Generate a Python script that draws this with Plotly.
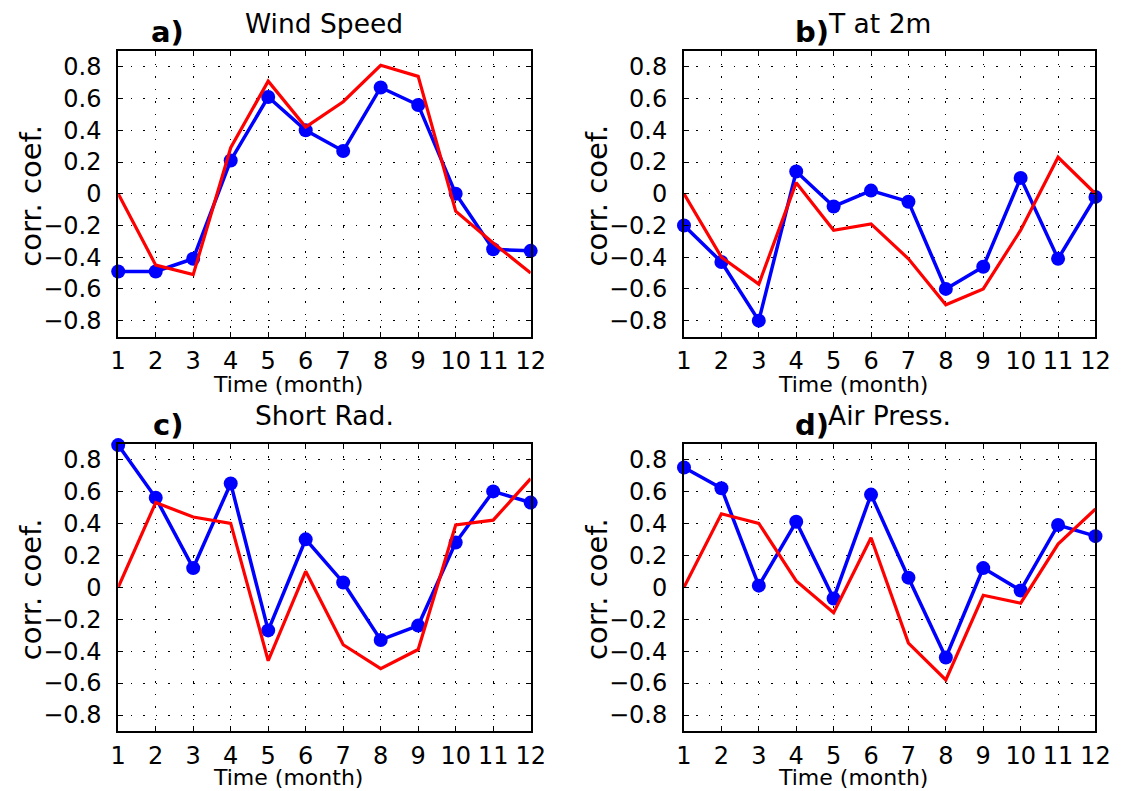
import plotly.graph_objects as go

# ---- data -------------------------------------------------------------
months = list(range(1, 13))
month_labels = [str(m) for m in months]

y_tick_vals = [-0.8, -0.6, -0.4, -0.2, 0.0, 0.2, 0.4, 0.6, 0.8]
y_tick_text = ["\u22120.8", "\u22120.6", "\u22120.4", "\u22120.2", "0",
               "0.2", "0.4", "0.6", "0.8"]

wind_blue = [-0.49, -0.49, -0.41, 0.21, 0.61, 0.40, 0.27, 0.67, 0.56, 0.00, -0.35, -0.36]
wind_red = [0.00, -0.45, -0.51, 0.29, 0.71, 0.42, 0.58, 0.81, 0.74, -0.11, -0.31, -0.50]

temp_blue = [-0.20, -0.43, -0.80, 0.14, -0.08, 0.02, -0.05, -0.60, -0.46, 0.10, -0.41, -0.02]
temp_red = [0.00, -0.40, -0.57, 0.07, -0.23, -0.19, -0.41, -0.70, -0.60, -0.23, 0.23, 0.00]

rad_blue = [0.89, 0.56, 0.12, 0.65, -0.27, 0.30, 0.03, -0.33, -0.24, 0.28, 0.60, 0.53]
rad_red = [0.00, 0.53, 0.44, 0.40, -0.46, 0.10, -0.36, -0.51, -0.39, 0.39, 0.42, 0.68]

press_blue = [0.75, 0.62, 0.01, 0.41, -0.07, 0.58, 0.06, -0.44, 0.12, -0.02, 0.39, 0.32]
press_red = [0.00, 0.46, 0.40, 0.04, -0.16, 0.31, -0.35, -0.58, -0.05, -0.10, 0.27, 0.49]

panel_titles = ["Wind Speed", "T at 2m", "Short Rad.", "Air Press."]
panel_letters = ["a)", "b)", "c)", "d)"]
x_title = "Time (month)"
y_title = "corr. coef."

# ---- layout geometry (pixels of a 1133 x 791 page) -------------------
W, H = 1133, 791
FONT = "DejaVu Sans"
col_px = [(112.5, 533.5), (690.0, 1110.0)]
row_px = [(51.0, 336.5), (443.5, 731.0)]
title_cx = [323.0, 890.0, 323.0, 900.0]   # panel title centres
letter_cx = [163.0, 821.0]                # a)/c) and b)/d) label centres
xtitle_cx = [286.0, 862.0]                # "Time (month)" centres
xtitle_dy = [48.0, 46.0]                  # "Time (month)" offset below each row


def px_x(p):
    return p / W


def px_y(p):
    return 1 - p / H


series = [(wind_blue, wind_red), (temp_blue, temp_red),
          (rad_blue, rad_red), (press_blue, press_red)]

fig = go.Figure()
annotations = []

for i, (blue, red) in enumerate(series):
    r, c = divmod(i, 2)
    n = "" if i == 0 else str(i + 1)
    xa, ya = "x" + n, "y" + n
    x0, x1 = col_px[c]
    y0, y1 = row_px[r]

    fig.add_trace(go.Scatter(
        x=months, y=blue, xaxis=xa, yaxis=ya, mode="lines+markers",
        line=dict(color="#0000ff", width=3.5),
        marker=dict(color="#0000ff", size=14),
        cliponaxis=False, showlegend=False))
    fig.add_trace(go.Scatter(
        x=months, y=red, xaxis=xa, yaxis=ya, mode="lines",
        line=dict(color="#ff0000", width=3.2),
        showlegend=False))

    common = dict(
        showline=True, linewidth=2, linecolor="black", mirror="ticks",
        ticks="inside", ticklen=5, tickwidth=1, tickcolor="black",
        showgrid=True, gridcolor="black", gridwidth=1,
        griddash="1.5px,11px", zeroline=False,
        tickfont=dict(family=FONT, size=24, color="black"),
    )
    fig.layout["xaxis" + n] = dict(
        common, domain=[px_x(x0), px_x(x1)], anchor=ya,
        range=[1, 12], tickmode="array", tickvals=months,
        ticktext=month_labels, ticklabelstandoff=2)
    fig.layout["yaxis" + n] = dict(
        common, domain=[px_y(y1), px_y(y0)], anchor=xa,
        range=[-0.9, 0.9], tickmode="array", tickvals=y_tick_vals,
        ticktext=y_tick_text, ticklabelstandoff=10)

    # panel title
    annotations.append(dict(
        text=panel_titles[i], xref="paper", yref="paper",
        x=px_x(title_cx[i]), y=px_y(y0 - 28), xanchor="center",
        yanchor="middle", showarrow=False,
        font=dict(family=FONT, size=26.5, color="black")))
    # panel letter
    annotations.append(dict(
        text="<b>" + panel_letters[i] + "</b>", xref="paper", yref="paper",
        x=px_x(letter_cx[c]), y=px_y(y0 - 19), xanchor="center",
        yanchor="middle", showarrow=False,
        font=dict(family=FONT, size=29, color="black")))
    # x-axis title
    annotations.append(dict(
        text=x_title, xref="paper", yref="paper",
        x=px_x(xtitle_cx[c]), y=px_y(y1 + xtitle_dy[r]), xanchor="center",
        yanchor="middle", showarrow=False,
        font=dict(family=FONT, size=22, color="black")))
    # y-axis title
    annotations.append(dict(
        text=y_title, xref="paper", yref="paper", textangle=-90,
        x=px_x(x0 - 89), y=px_y((y0 + y1) / 2 + 2), xanchor="center",
        yanchor="middle", showarrow=False,
        font=dict(family=FONT, size=29, color="black")))

fig.update_layout(
    width=W, height=H, margin=dict(l=0, r=0, t=0, b=0),
    paper_bgcolor="white", plot_bgcolor="white",
    annotations=annotations, showlegend=False,
)

fig.write_html("out.html")
